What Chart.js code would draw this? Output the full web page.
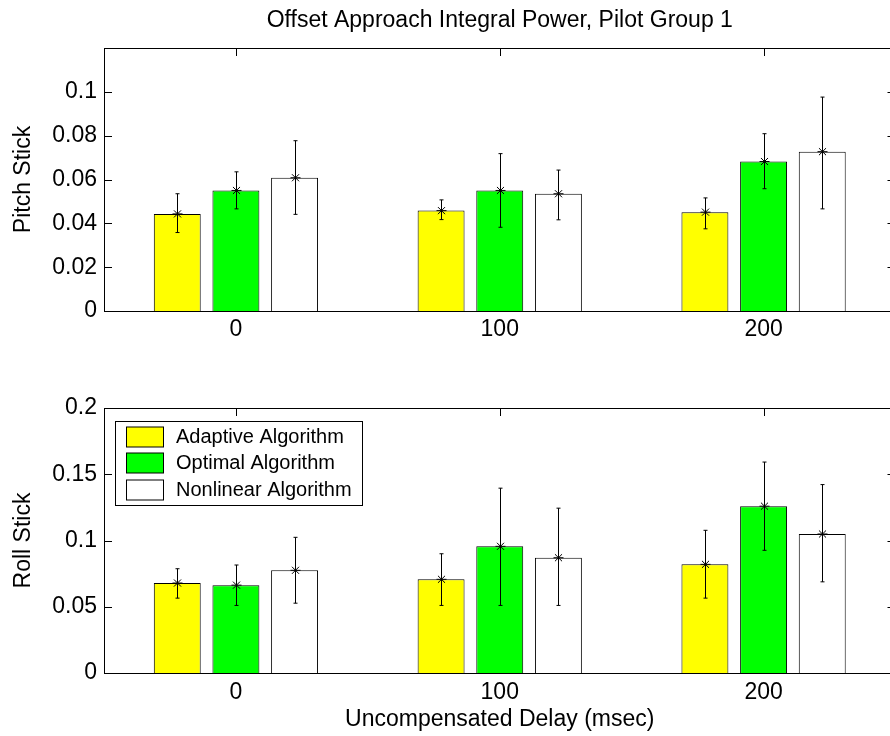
<!DOCTYPE html>
<html>
<head>
<meta charset="utf-8">
<script src="https://cdn.jsdelivr.net/npm/chart.js@4.4.0/dist/chart.umd.min.js"></script>
<style>
html, body { margin: 0; padding: 0; background: #fff; overflow: hidden; width: 890px; height: 736px; }
canvas { position: absolute; left: 0; }
#pitch { top: 0; }
#roll { top: 360px; }
</style>
</head>
<body>
<canvas id="pitch" width="910" height="360"></canvas>
<canvas id="roll" width="910" height="376"></canvas>
<script>
var delays = ['0', '100', '200'];
var seriesNames = ['Adaptive Algorithm', 'Optimal Algorithm', 'Nonlinear Algorithm'];
var seriesColors = ['#ffff00', '#00ff00', '#ffffff'];

// pitch stick: means and error bar ends
var pitchAdaptive = [0.0443, 0.0458, 0.0451];
var pitchOptimal = [0.0550, 0.0550, 0.0682];
var pitchNonlinear = [0.0608, 0.0535, 0.0727];
var pitchAdaptiveLow = [0.0358, 0.0417, 0.0375];
var pitchAdaptiveHigh = [0.0535, 0.0507, 0.0516];
var pitchOptimalLow = [0.0466, 0.0382, 0.0558];
var pitchOptimalHigh = [0.0635, 0.0718, 0.0809];
var pitchNonlinearLow = [0.0441, 0.0416, 0.0466];
var pitchNonlinearHigh = [0.0777, 0.0643, 0.0976];

// roll stick
var rollAdaptive = [0.0679, 0.0707, 0.0820];
var rollOptimal = [0.0663, 0.0956, 0.1259];
var rollNonlinear = [0.0775, 0.0870, 0.1049];
var rollAdaptiveLow = [0.0565, 0.0510, 0.0565];
var rollAdaptiveHigh = [0.0787, 0.0900, 0.1077];
var rollOptimalLow = [0.0510, 0.0510, 0.0926];
var rollOptimalHigh = [0.0815, 0.1395, 0.1592];
var rollNonlinearLow = [0.0527, 0.0510, 0.0688];
var rollNonlinearHigh = [0.1024, 0.1244, 0.1422];

var fontFamily = '"Liberation Sans", Arial, sans-serif';
Chart.defaults.font.family = fontFamily;
Chart.defaults.font.size = 23;
Chart.defaults.color = '#000';

// box with inward ticks on all four sides, like matlab
var framePlugin = {
    id: 'frame',
    beforeDatasetsDraw: function (chart) {
        var ctx = chart.ctx, a = chart.chartArea;
        var xs = chart.scales.x, ys = chart.scales.y;
        ctx.save();
        ctx.strokeStyle = '#000';
        ctx.lineWidth = 1;
        ctx.beginPath();
        xs.ticks.forEach(function (t, i) {
            var px = Math.round(xs.getPixelForTick(i)) + 0.5;
            ctx.moveTo(px, a.top); ctx.lineTo(px, a.top + 8);
            ctx.moveTo(px, a.bottom); ctx.lineTo(px, a.bottom - 8);
        });
        ys.ticks.forEach(function (t) {
            var py = Math.round(ys.getPixelForValue(t.value)) + 0.5;
            ctx.moveTo(a.left, py); ctx.lineTo(a.left + 8, py);
            ctx.moveTo(a.right, py); ctx.lineTo(a.right - 8, py);
        });
        ctx.stroke();
        ctx.restore();
    },
    afterDatasetsDraw: function (chart) {
        var ctx = chart.ctx, a = chart.chartArea;
        ctx.save();
        ctx.strokeStyle = '#000';
        ctx.lineWidth = 1;
        ctx.strokeRect(a.left + 0.5, a.top + 0.5, a.right - a.left, a.bottom - a.top);
        ctx.restore();
    }
};

var errorBarPlugin = {
    id: 'errorBars',
    afterDatasetsDraw: function (chart) {
        var ctx = chart.ctx, ys = chart.scales.y;
        ctx.save();
        ctx.strokeStyle = '#000';
        ctx.lineWidth = 1;
        chart.data.datasets.forEach(function (ds, d) {
            chart.getDatasetMeta(d).data.forEach(function (bar, i) {
                var x = Math.round(bar.x) + 0.5;
                var hi = ys.getPixelForValue(ds.errHigh[i]);
                var lo = ys.getPixelForValue(ds.errLow[i]);
                var y = bar.y, r = 5, q = r * 0.7071;
                ctx.beginPath();
                ctx.moveTo(x, hi); ctx.lineTo(x, lo);
                ctx.moveTo(x - 2, hi); ctx.lineTo(x + 2, hi);
                ctx.moveTo(x - 2, lo); ctx.lineTo(x + 2, lo);
                ctx.moveTo(x - r, y); ctx.lineTo(x + r, y);
                ctx.moveTo(x, y - r); ctx.lineTo(x, y + r);
                ctx.moveTo(x - q, y - q); ctx.lineTo(x + q, y + q);
                ctx.moveTo(x - q, y + q); ctx.lineTo(x + q, y - q);
                ctx.stroke();
            });
        });
        ctx.restore();
    }
};

var boxLegendPlugin = {
    id: 'boxLegend',
    afterDraw: function (chart) {
        var ctx = chart.ctx, a = chart.chartArea;
        var bx = Math.round(a.left + 11) + 0.5, by = Math.round(a.top + 12.5) + 0.5;
        ctx.save();
        ctx.fillStyle = '#fff';
        ctx.fillRect(bx, by, 247, 84);
        ctx.strokeStyle = '#000';
        ctx.lineWidth = 1;
        ctx.strokeRect(bx, by, 247, 84);
        ctx.font = '20px ' + fontFamily;
        ctx.textBaseline = 'middle';
        chart.data.datasets.forEach(function (ds, i) {
            var sy = Math.round(by + 5 + i * 26.5);
            ctx.fillStyle = ds.backgroundColor;
            ctx.fillRect(bx + 11, sy, 37, 20);
            ctx.strokeStyle = '#000';
            ctx.strokeRect(bx + 11, sy, 37, 20);
            ctx.fillStyle = '#000';
            ctx.fillText(ds.label, bx + 60.5, sy + 10);
        });
        ctx.restore();
    }
};

function makeChart(id, cfg) {
    var datasets = [];
    for (var k = 0; k < 3; k++) {
        datasets.push({
            label: seriesNames[k],
            data: cfg.means[k],
            errLow: cfg.lows[k],
            errHigh: cfg.highs[k],
            backgroundColor: seriesColors[k],
            borderColor: '#000',
            borderWidth: 1,
            categoryPercentage: 0.667,
            barPercentage: 0.8
        });
    }
    var plugins = [framePlugin, errorBarPlugin];
    if (cfg.legend) plugins.push(boxLegendPlugin);

    return new Chart(document.getElementById(id).getContext('2d'), {
        type: 'bar',
        data: { labels: delays, datasets: datasets },
        plugins: plugins,
        options: {
            responsive: false,
            animation: false,
            events: [],
            layout: { padding: { left: 0, right: 14.5, top: cfg.padTop, bottom: 0 } },
            scales: {
                x: {
                    type: 'category',
                    offset: true,
                    grid: { display: false, drawTicks: false },
                    border: { display: false },
                    ticks: { padding: cfg.xPad, maxRotation: 0 },
                    title: {
                        display: !!cfg.xTitle,
                        text: cfg.xTitle || '',
                        padding: { top: 0, bottom: 3 }
                    },
                    afterFit: function (s) { s.height = cfg.xHeight; }
                },
                y: {
                    min: 0,
                    max: cfg.yMax,
                    grid: { display: false, drawTicks: false },
                    border: { display: false },
                    ticks: {
                        stepSize: cfg.yStep,
                        padding: 7,
                        callback: function (v) {
                            if (v > cfg.yLabelMax + 1e-9) return '';
                            return String(parseFloat(v.toFixed(3)));
                        }
                    },
                    title: { display: true, text: cfg.yTitle, padding: { top: 10, bottom: 0 } },
                    afterFit: function (s) { s.width = 104; }
                }
            },
            plugins: {
                legend: { display: false },
                tooltip: { enabled: false },
                title: {
                    display: !!cfg.title,
                    text: cfg.title || '',
                    fullSize: false,
                    color: '#000',
                    font: { size: 23, weight: 'normal' },
                    padding: { top: 7, bottom: 13.4 }
                }
            }
        }
    });
}

makeChart('pitch', {
    title: 'Offset Approach Integral Power, Pilot Group 1',
    yTitle: 'Pitch Stick',
    means: [pitchAdaptive, pitchOptimal, pitchNonlinear],
    lows: [pitchAdaptiveLow, pitchOptimalLow, pitchNonlinearLow],
    highs: [pitchAdaptiveHigh, pitchOptimalHigh, pitchNonlinearHigh],
    yMax: 0.12, yStep: 0.02, yLabelMax: 0.1,
    padTop: 0, xHeight: 49, xPad: 5
});

makeChart('roll', {
    yTitle: 'Roll Stick',
    xTitle: 'Uncompensated Delay (msec)',
    means: [rollAdaptive, rollOptimal, rollNonlinear],
    lows: [rollAdaptiveLow, rollOptimalLow, rollNonlinearLow],
    highs: [rollAdaptiveHigh, rollOptimalHigh, rollNonlinearHigh],
    yMax: 0.2, yStep: 0.05, yLabelMax: 0.2,
    padTop: 48, xHeight: 63, xPad: 5.5,
    legend: true
});
</script>
</body>
</html>
